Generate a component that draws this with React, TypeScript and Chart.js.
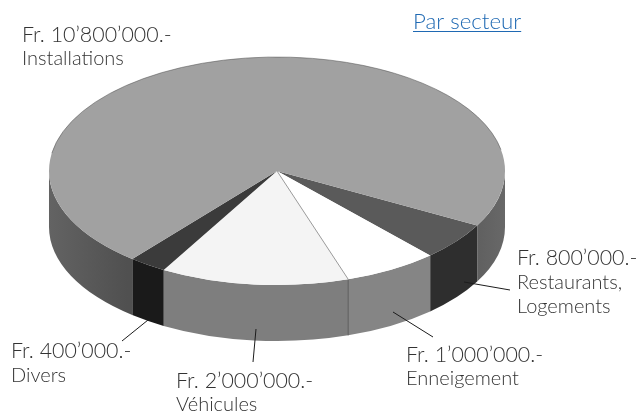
import React, { useEffect, useRef } from "react";
import { Chart, registerables } from "chart.js";

Chart.register(...registerables);

const categories = ["Restaurants, Logements", "Enneigement", "Véhicules", "Divers", "Installations"];
const values = [800000, 1000000, 2000000, 400000, 10800000];
const topColors = ["#5a5a5a", "#ffffff", "#f4f4f4", "#3b3b3b", "#a1a1a1"];
const sideColors = ["#2e2e2e", "#858585", "#7e7e7e", "#1a1a1a", "#555555"];

const title = "Par secteur";
const titleAnchor = { x: 413, y: 29 };

const labelLines = [
  ["Fr. 800’000.-", "Restaurants,", "Logements"],
  ["Fr. 1’000’000.-", "Enneigement"],
  ["Fr. 2’000’000.-", "Véhicules"],
  ["Fr. 400’000.-", "Divers"],
  ["Fr. 10’800’000.-", "Installations"],
];
const labelAnchors = [
  { x: 517, y: 265, lh: 24 },
  { x: 406, y: 362, lh: 23 },
  { x: 176, y: 388, lh: 22.5 },
  { x: 11, y: 358, lh: 24 },
  { x: 22, y: 42, lh: 22.5 },
];
const leaders = [
  [464, 282, 510, 290],
  [393, 312, 433, 337],
  [256, 329, 253, 362],
  [148, 320, 122, 341],
];

const PIE_CX = 277;
const PIE_CY = 171;
const PIE_RX = 228;
const PIE_RY = 114;
const DEPTH = 56;
const AMOUNT_FONT = "300 21.4px Lato, 'Open Sans', sans-serif";
const NAME_FONT = "300 20px Lato, 'Open Sans', sans-serif";
const TITLE_FONT = "300 22.3px Lato, 'Open Sans', sans-serif";

const TAU = Math.PI * 2;

function sideRange(ctx: CanvasRenderingContext2D, a: number, b: number, fill: string | CanvasGradient) {
  ctx.beginPath();
  ctx.ellipse(PIE_CX, PIE_CY, PIE_RX, PIE_RY, 0, a, b, false);
  ctx.ellipse(PIE_CX, PIE_CY + DEPTH, PIE_RX, PIE_RY, 0, b, a, true);
  ctx.closePath();
  ctx.fillStyle = fill;
  ctx.fill();
}

const piePlugin = {
  id: "pie3d",
  beforeDatasetDraw(chart: any) {
    const ctx: CanvasRenderingContext2D = chart.ctx;
    const arcs = chart.getDatasetMeta(0).data;
    const grad = ctx.createLinearGradient(PIE_CX - PIE_RX, 0, PIE_CX + PIE_RX, 0);
    grad.addColorStop(0, "#636363");
    grad.addColorStop(0.17, "#505050");
    grad.addColorStop(0.86, "#555555");
    grad.addColorStop(1, "#686868");
    ctx.save();
    arcs.forEach((arc: any, i: number) => {
      const fill = i === arcs.length - 1 ? grad : sideColors[i];
      for (const k of [0, -1, 1]) {
        const a = Math.max(arc.startAngle + k * TAU, 0);
        const b = Math.min(arc.endAngle + k * TAU, Math.PI);
        if (b > a) sideRange(ctx, a, b, fill);
      }
    });
    const seam = arcs[1].endAngle;
    const sx = PIE_CX + PIE_RX * Math.cos(seam);
    const sy = PIE_CY + PIE_RY * Math.sin(seam);
    ctx.strokeStyle = "#5a5a5a";
    ctx.lineWidth = 1;
    ctx.beginPath();
    ctx.moveTo(sx, sy);
    ctx.lineTo(sx, sy + DEPTH);
    ctx.stroke();
    ctx.restore();

    ctx.save();
    const a0 = arcs[0];
    const sX = PIE_RX / a0.outerRadius;
    const sY = PIE_RY / a0.outerRadius;
    ctx.translate(PIE_CX, PIE_CY);
    ctx.scale(sX, sY);
    ctx.translate(-a0.x, -a0.y);
  },
  afterDatasetDraw(chart: any) {
    const ctx: CanvasRenderingContext2D = chart.ctx;
    ctx.restore();
    const arcs = chart.getDatasetMeta(0).data;
    ctx.save();
    ctx.strokeStyle = "rgba(80,80,80,0.5)";
    ctx.lineWidth = 1;
    ctx.beginPath();
    ctx.ellipse(PIE_CX, PIE_CY, PIE_RX, PIE_RY, 0, Math.PI * 1.05, TAU * 0.97);
    ctx.stroke();
    const seam = arcs[1].endAngle;
    ctx.strokeStyle = "#9a9a9a";
    ctx.beginPath();
    ctx.moveTo(PIE_CX, PIE_CY);
    ctx.lineTo(PIE_CX + PIE_RX * Math.cos(seam), PIE_CY + PIE_RY * Math.sin(seam));
    ctx.stroke();
    ctx.strokeStyle = "#1c1c1c";
    ctx.lineWidth = 1;
    leaders.forEach(([x1, y1, x2, y2]) => {
      ctx.beginPath();
      ctx.moveTo(x1, y1);
      ctx.lineTo(x2, y2);
      ctx.stroke();
    });
    ctx.fillStyle = "#333333";
    ctx.textBaseline = "alphabetic";
    ctx.textAlign = "left";
    labelLines.forEach((lines, i) => {
      const p = labelAnchors[i];
      lines.forEach((t, j) => {
        ctx.font = j === 0 ? AMOUNT_FONT : NAME_FONT;
        ctx.fillText(t, p.x, p.y + j * p.lh);
      });
    });
    ctx.font = TITLE_FONT;
    ctx.fillStyle = "#1f69b3";
    ctx.fillText(title, titleAnchor.x, titleAnchor.y);
    const w = ctx.measureText(title).width;
    ctx.strokeStyle = "#1f69b3";
    ctx.beginPath();
    ctx.moveTo(titleAnchor.x, titleAnchor.y + 2.5);
    ctx.lineTo(titleAnchor.x + w, titleAnchor.y + 2.5);
    ctx.stroke();
    ctx.restore();
  },
};

export default function App() {
  const ref = useRef<HTMLCanvasElement>(null);
  useEffect(() => {
    const chart = new Chart(ref.current!, {
      type: "pie",
      data: {
        labels: categories,
        datasets: [
          {
            data: values,
            backgroundColor: topColors,
            borderWidth: 0,
            clip: false,
          } as any,
        ],
      },
      options: {
        responsive: false,
        animation: false,
        rotation: 118.6,
        layout: { padding: 0 },
        plugins: { legend: { display: false }, tooltip: { enabled: false } },
      },
      plugins: [piePlugin],
    });
    return () => chart.destroy();
  }, []);
  return (
    <canvas
      ref={ref}
      width={637}
      height={414}
      style={{ position: "fixed", left: 0, top: 0, width: 637, height: 414, background: "#fff", filter: "blur(0.4px)" }}
    />
  );
}
